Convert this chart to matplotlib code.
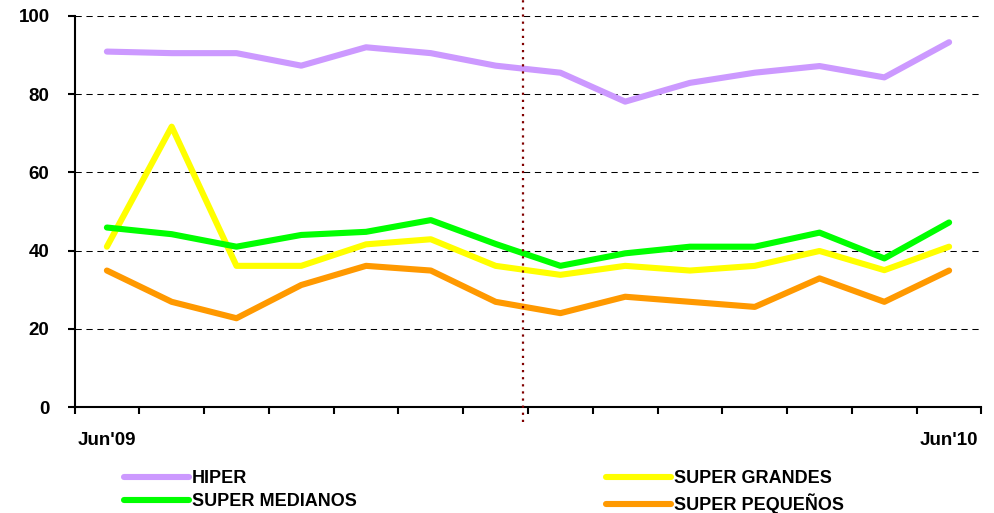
import matplotlib
matplotlib.use('Agg')
import matplotlib.pyplot as plt

plt.rcParams['font.family'] = ['Liberation Sans', 'DejaVu Sans']
plt.rcParams['font.weight'] = 'bold'

# 14 months, only first and last get a label
meses = ["Jun'09", "", "", "", "", "", "", "", "", "", "", "", "", "Jun'10"]
hiper = [90.9, 90.5, 90.5, 87.3, 92.0, 90.5, 87.3, 85.5, 78.1, 82.9, 85.5, 87.2, 84.3, 93.3]
super_grandes = [41.0, 71.7, 36.1, 36.1, 41.6, 42.9, 36.1, 33.8, 36.1, 34.9, 36.1, 39.9, 35.0, 41.0]
super_medianos = [45.9, 44.2, 41.0, 44.0, 44.8, 47.8, 41.7, 36.1, 39.3, 41.0, 41.0, 44.6, 38.0, 47.2]
super_pequenos = [34.9, 26.9, 22.7, 31.2, 36.1, 34.9, 26.9, 24.0, 28.2, 26.9, 25.6, 32.9, 26.9, 34.9]
corte = 6.43  # dotted separator between months

fig = plt.figure(figsize=(9.94, 5.13), dpi=100)
ax = fig.add_axes([74.5 / 994, 1 - 407 / 513, (981.5 - 74.5) / 994, (407 - 16) / 513])

x = list(range(len(meses)))
lw = 4.4
l1, = ax.plot(x, hiper, color='#CC99FF', lw=lw, solid_capstyle='round', label='HIPER')
l2, = ax.plot(x, super_grandes, color='#FFFF00', lw=lw, solid_capstyle='round', label='SUPER GRANDES')
l3, = ax.plot(x, super_medianos, color='#00FF00', lw=lw, solid_capstyle='round', label='SUPER MEDIANOS')
l4, = ax.plot(x, super_pequenos, color='#FF9900', lw=lw, solid_capstyle='round', label='SUPER PEQUEÑOS')

# grid
for v in [20, 40, 60, 80, 100]:
    ax.axhline(v, color='black', lw=0.75, dashes=(6, 4.5), zorder=0)

ax.plot([corte, corte], [-3.8, 104.2], color='#800000', lw=1.6,
        linestyle=(0, (1, 2.2)), clip_on=False, zorder=5)

ax.set_xlim(-0.5, len(meses) - 0.5)
ax.set_ylim(0, 100)
ax.set_yticks([0, 20, 40, 60, 80, 100])
ax.set_xticks(x)
ax.set_xticklabels(meses)
ax.set_xticks([i - 0.5 for i in range(len(meses) + 1)], minor=True)
ax.tick_params(axis='x', which='major', length=0, pad=18, labelsize=13.5)
ax.tick_params(axis='x', which='minor', length=5, width=1.5, direction='out')
ax.tick_params(axis='y', length=5, width=1.5, direction='out', pad=13, labelsize=13.5)
for lab in ax.get_xticklabels() + ax.get_yticklabels():
    lab.set_fontweight('bold')

for s in ['top', 'right']:
    ax.spines[s].set_visible(False)
for s in ['left', 'bottom']:
    ax.spines[s].set_linewidth(1.5)

leg_kw = dict(frameon=False, fontsize=13, handlelength=3.6, handletextpad=0.15,
              labelspacing=0.36, borderpad=0, borderaxespad=0, loc='upper left')
leg1 = fig.legend([l1, l3], ['HIPER', 'SUPER MEDIANOS'],
                  bbox_to_anchor=(124 / 994, 1 - 470 / 513), **leg_kw)
leg2 = fig.legend([l2, l4], ['SUPER GRANDES', 'SUPER PEQUEÑOS'],
                  bbox_to_anchor=(606 / 994, 1 - 470 / 513), **leg_kw)
for leg in (leg1, leg2):
    for t in leg.get_texts():
        t.set_fontweight('bold')

fig.savefig('out.png', dpi=100)
